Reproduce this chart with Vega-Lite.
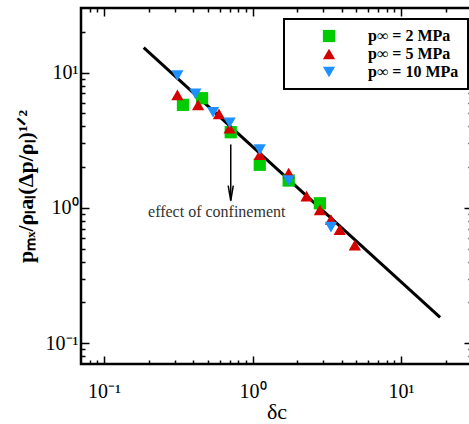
{
  "$schema": "https://vega.github.io/schema/vega-lite/v6.json",
  "width": 391,
  "height": 356,
  "autosize": "none",
  "padding": {"left": 81, "top": 8, "right": 0, "bottom": 60},
  "background": "white",
  "config": {
    "view": {"stroke": "black", "strokeWidth": 2.5},
    "font": "Liberation Serif",
    "axis": {
      "domain": false,
      "grid": false,
      "tickColor": "black",
      "tickWidth": 1.5,
      "labelFont": "Liberation Serif",
      "labelFontSize": 20,
      "labelColor": "black",
      "titleFont": "Liberation Serif",
      "titleColor": "black"
    },
    "legend": {
      "orient": "none",
      "legendX": 203,
      "legendY": 11,
      "strokeColor": "black",
      "strokeWidth": 2,
      "fillColor": "white",
      "padding": 9,
      "labelFont": "Liberation Serif",
      "labelFontWeight": "bold",
      "labelFontSize": 16,
      "labelColor": "black",
      "symbolOffset": 28,
      "labelOffset": 31,
      "rowPadding": 2,
      "symbolSize": 150,
      "symbolStrokeWidth": 0
    }
  },
  "datasets": {
    "fit": [
      {"x": 0.185, "y": 15.3},
      {"x": 18.3, "y": 0.155}
    ],
    "pts": [
      {"x": 0.34, "y": 5.77, "p": "2"},
      {"x": 0.457, "y": 6.46, "p": "2"},
      {"x": 0.713, "y": 3.62, "p": "2"},
      {"x": 1.118, "y": 2.08, "p": "2"},
      {"x": 1.75, "y": 1.59, "p": "2"},
      {"x": 2.84, "y": 1.08, "p": "2"},
      {"x": 0.312, "y": 6.84, "p": "5"},
      {"x": 0.43, "y": 5.77, "p": "5"},
      {"x": 0.594, "y": 4.95, "p": "5"},
      {"x": 0.701, "y": 3.87, "p": "5"},
      {"x": 1.118, "y": 2.47, "p": "5"},
      {"x": 1.75, "y": 1.81, "p": "5"},
      {"x": 2.31, "y": 1.22, "p": "5"},
      {"x": 2.84, "y": 0.966, "p": "5"},
      {"x": 3.37, "y": 0.82, "p": "5"},
      {"x": 3.86, "y": 0.688, "p": "5"},
      {"x": 4.88, "y": 0.53, "p": "5"},
      {"x": 0.312, "y": 9.5, "p": "10"},
      {"x": 0.412, "y": 6.96, "p": "10"},
      {"x": 0.542, "y": 5.09, "p": "10"},
      {"x": 0.701, "y": 4.25, "p": "10"},
      {"x": 1.118, "y": 2.69, "p": "10"},
      {"x": 1.75, "y": 1.59, "p": "10"},
      {"x": 3.37, "y": 0.72, "p": "10"}
    ],
    "arrow": [
      {"x": 0.713, "y": 2.94, "y2": 1.13}
    ],
    "note": [
      {"x": 0.574, "y": 0.923, "label": "effect of confinement"}
    ]
  },
  "layer": [
    {
      "data": {"name": "fit"},
      "mark": {"type": "line", "color": "black", "strokeWidth": 3},
      "encoding": {
        "x": {
          "field": "x", "type": "quantitative",
          "scale": {"type": "log", "domain": [0.07, 30]},
          "axis": {
            "orient": "bottom",
            "title": "δc",
            "titleFontSize": 22,
            "titleFontWeight": "normal",
            "titlePadding": 0,
            "values": [0.08, 0.09, 0.1, 0.2, 0.3, 0.4, 0.5, 0.6, 0.7, 0.8, 0.9, 1, 2, 3, 4, 5, 6, 7, 8, 9, 10, 20],
            "labelExpr": "datum.value == 0.1 ? '10⁻¹' : datum.value == 1 ? '10⁰' : datum.value == 10 ? '10¹' : ''",
            "tickSize": {"condition": {"test": "datum.value == 0.1 || datum.value == 1 || datum.value == 10", "value": -8}, "value": -4},
            "labelPadding": 25,
            "labelFlush": false
          }
        },
        "y": {
          "field": "y", "type": "quantitative",
          "scale": {"type": "log", "domain": [0.07, 30]},
          "axis": {
            "orient": "left",
            "title": "pₘₓ/ρₗaₗ(Δp/ρₗ)¹ᐟ²",
            "titleFontSize": 22,
            "titleFontWeight": "bold",
            "titlePadding": 8,
            "values": [0.08, 0.09, 0.1, 0.2, 0.3, 0.4, 0.5, 0.6, 0.7, 0.8, 0.9, 1, 2, 3, 4, 5, 6, 7, 8, 9, 10, 20],
            "labelExpr": "datum.value == 0.1 ? '10⁻¹' : datum.value == 1 ? '10⁰' : datum.value == 10 ? '10¹' : ''",
            "tickSize": {"condition": {"test": "datum.value == 0.1 || datum.value == 1 || datum.value == 10", "value": -8}, "value": -4},
            "labelPadding": 11,
            "labelFlush": false
          }
        }
      }
    },
    {
      "data": {"name": "pts"},
      "mark": {"type": "point", "filled": true, "opacity": 1, "size": 150},
      "encoding": {
        "x": {
          "field": "x", "type": "quantitative",
          "scale": {"type": "log", "domain": [0.07, 30]},
          "axis": {
            "orient": "top",
            "title": null,
            "labels": false,
            "values": [0.08, 0.09, 0.1, 0.2, 0.3, 0.4, 0.5, 0.6, 0.7, 0.8, 0.9, 1, 2, 3, 4, 5, 6, 7, 8, 9, 10, 20],
            "tickSize": {"condition": {"test": "datum.value == 0.1 || datum.value == 1 || datum.value == 10", "value": -8}, "value": -4}
          }
        },
        "y": {
          "field": "y", "type": "quantitative",
          "scale": {"type": "log", "domain": [0.07, 30]},
          "axis": {
            "orient": "right",
            "title": null,
            "labels": false,
            "values": [0.08, 0.09, 0.1, 0.2, 0.3, 0.4, 0.5, 0.6, 0.7, 0.8, 0.9, 1, 2, 3, 4, 5, 6, 7, 8, 9, 10, 20],
            "tickSize": {"condition": {"test": "datum.value == 0.1 || datum.value == 1 || datum.value == 10", "value": -8}, "value": -4}
          }
        },
        "color": {
          "field": "p", "type": "nominal",
          "scale": {"domain": ["2", "5", "10"], "range": ["#00cc00", "#d40000", "#1e90ff"]},
          "legend": {"title": null, "labelExpr": "'p∞ = ' + datum.label + ' MPa'"}
        },
        "shape": {
          "field": "p", "type": "nominal",
          "scale": {"domain": ["2", "5", "10"], "range": ["square", "triangle-up", "triangle-down"]},
          "legend": {"title": null, "labelExpr": "'p∞ = ' + datum.label + ' MPa'"}
        }
      }
    },
    {
      "data": {"name": "arrow"},
      "mark": {"type": "rule", "color": "black", "strokeWidth": 1.5},
      "encoding": {
        "x": {"field": "x", "type": "quantitative", "scale": {"type": "log", "domain": [0.07, 30]}, "axis": null},
        "y": {"field": "y", "type": "quantitative", "scale": {"type": "log", "domain": [0.07, 30]}, "axis": null},
        "y2": {"field": "y2"}
      }
    },
    {
      "data": {"name": "arrow"},
      "mark": {"type": "point", "shape": "M-0.17,-1L0,0L0.17,-1", "filled": false, "stroke": "black", "strokeWidth": 1.5, "size": 900, "opacity": 1},
      "encoding": {
        "x": {"field": "x", "type": "quantitative", "scale": {"type": "log", "domain": [0.07, 30]}, "axis": null},
        "y": {"field": "y2", "type": "quantitative", "scale": {"type": "log", "domain": [0.07, 30]}, "axis": null}
      }
    },
    {
      "data": {"name": "note"},
      "mark": {"type": "text", "font": "Liberation Serif", "fontSize": 16, "color": "#333333", "baseline": "middle", "align": "center"},
      "encoding": {
        "x": {"field": "x", "type": "quantitative", "scale": {"type": "log", "domain": [0.07, 30]}, "axis": null},
        "y": {"field": "y", "type": "quantitative", "scale": {"type": "log", "domain": [0.07, 30]}, "axis": null},
        "text": {"field": "label"}
      }
    }
  ],
  "resolve": {"axis": {"x": "independent", "y": "independent"}}
}
